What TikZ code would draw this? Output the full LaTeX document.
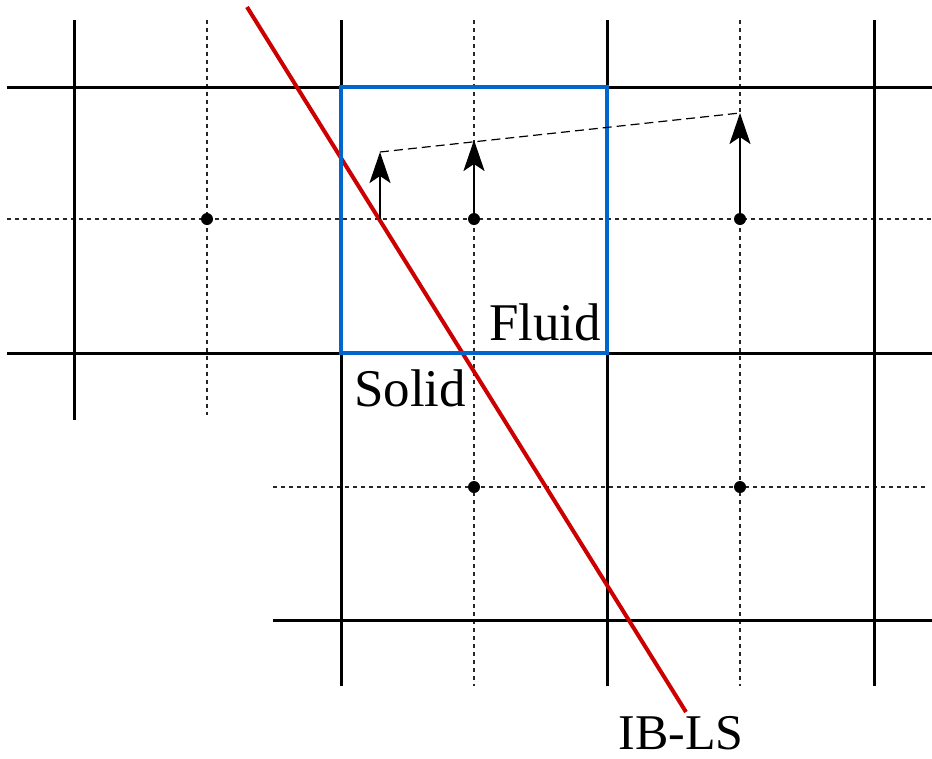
\documentclass[tikz,border=0pt]{standalone}
\usepackage{fontspec}
\setmainfont{Liberation Serif}
\usetikzlibrary{arrows.meta}
\definecolor{ibred}{RGB}{204,0,0}
\definecolor{cellblue}{RGB}{0,102,204}
\begin{document}
\begin{tikzpicture}[x=1pt,y=-1pt,
  gridline/.style={line width=3pt, black},
  halfline/.style={line width=1.3pt, black!85, dash pattern=on 4pt off 4pt},
  dot/.style={circle, fill=black, inner sep=0pt, minimum size=12pt},
  vec/.style={line width=2.3pt, -{Stealth[length=31pt,width=21pt,inset=7pt]}},
  tipline/.style={line width=1.2pt, dash pattern=on 9pt off 5pt},
  lbl/.style={inner sep=0pt, font=\fontsize{53}{60}\selectfont}
]
\useasboundingbox (0,0) rectangle (932,758);
% half-grid (dashed) lines
\draw[halfline] (207,20) -- (207,415);
\draw[halfline] (474,20) -- (474,686);
\draw[halfline] (740,20) -- (740,686);
\draw[halfline] (7,219) -- (932,219);
\draw[halfline] (273,487) -- (927,487);
% cell faces (solid)
\draw[gridline] (74,20) -- (74,420);
\draw[gridline] (341,20) -- (341,686);
\draw[gridline] (607,20) -- (607,686);
\draw[gridline] (874,20) -- (874,686);
\draw[gridline] (7,87) -- (932,87);
\draw[gridline] (7,353) -- (932,353);
\draw[gridline] (273,620) -- (932,620);
% immersed boundary
\coordinate (ibA) at (247,7);
\coordinate (ibB) at (686,712);
\draw[ibred, line width=4pt] (ibA) -- (ibB);
% highlighted cell
\draw[cellblue, line width=4pt] (341,87) rectangle (607,353);
% cell centres
\node[dot] (c1) at (207,219) {};
\node[dot] (c2) at (474,219) {};
\node[dot] (c3) at (740,219) {};
\node[dot] (c4) at (474,487) {};
\node[dot] (c5) at (740,487) {};
% velocity vectors
\coordinate (b0) at (380,219);
\coordinate (t0) at (380,152);
\coordinate (t2) at (474,140);
\coordinate (t3) at (740,113);
\draw[tipline] (t0) -- (t3);
\draw[vec] (b0) -- (t0);
\draw[vec] (c2.center) -- (t2);
\draw[vec] (c3.center) -- (t3);
% labels
\node[lbl, anchor=base] (fluid) at (545,340) {Fluid};
\node[lbl, anchor=base] (solid) at (410,406) {Solid};
\node[lbl, anchor=base, font=\fontsize{50}{58}\selectfont] (ibls) at (681,749) {IB-LS};
\end{tikzpicture}
\end{document}
